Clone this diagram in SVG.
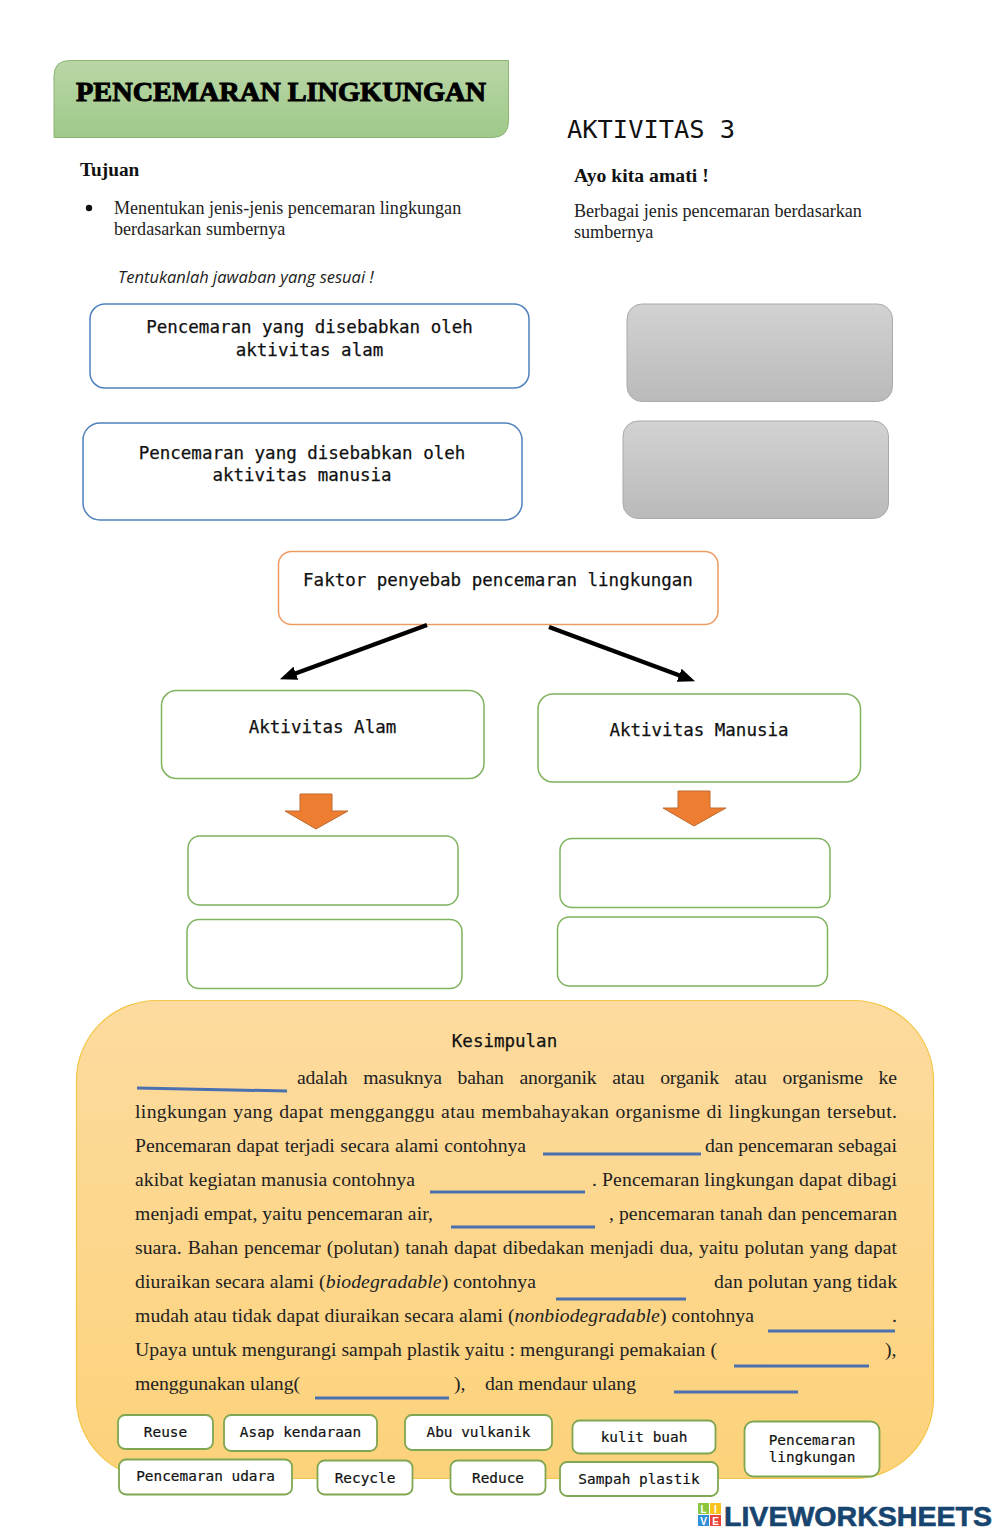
<svg xmlns="http://www.w3.org/2000/svg" width="1000" height="1535" viewBox="0 0 1000 1535">
<defs>
<linearGradient id="gr" x1="0" y1="0" x2="0" y2="1"><stop offset="0" stop-color="#b9d6a6"/><stop offset="1" stop-color="#9fc98a"/></linearGradient>
<linearGradient id="gy" x1="0" y1="0" x2="0" y2="1"><stop offset="0" stop-color="#d2d2d2"/><stop offset="1" stop-color="#bababa"/></linearGradient>
<linearGradient id="or" x1="0" y1="0" x2="0" y2="1"><stop offset="0" stop-color="#fddb9f"/><stop offset="1" stop-color="#fcd27a"/></linearGradient>
<marker id="ah" markerUnits="userSpaceOnUse" markerWidth="18" markerHeight="14" refX="2" refY="7" orient="auto"><path d="M0 0L17 7L0 14Z" fill="#000"/></marker>
</defs>
<style>
.m{font-family:"DejaVu Sans Mono","Liberation Mono",monospace;font-size:17.500px;fill:#111;stroke:#111;stroke-width:.25px;text-anchor:middle}
.s{font-family:"DejaVu Sans Mono","Liberation Mono",monospace;font-size:14.400px;fill:#111;stroke:#111;stroke-width:.2px;text-anchor:middle}
.p{font-family:"Liberation Serif",serif;font-size:19.700px;fill:#222}
.q{font-family:"Liberation Serif",serif;font-size:18.100px;fill:#222}
.b{fill:#fff;stroke-width:1.5}
.bl{stroke:#4f81bd}
.g{stroke:#7fb35f}
.o{stroke:#ee9a63}
.c{fill:#fff;stroke:#7fa650;stroke-width:1.800}
.u{stroke:#4a70b0;stroke-width:3;fill:none}
.a{fill:#ed7d31;stroke:#bd6a2e;stroke-width:1}
</style>
<rect width="1000" height="1535" fill="#fff"/>
<g id="title">
<path d="M54 137.500V76Q54 60.500 70 60.500H508.500V121Q508.500 137.500 492 137.500Z" fill="url(#gr)" stroke="#8cb573" stroke-width="1"/>
<text x="76" y="101" font-family="Liberation Serif,serif" font-weight="700" font-size="27" fill="#000" stroke="#000" stroke-width="1" textLength="410" lengthAdjust="spacingAndGlyphs">PENCEMARAN LINGKUNGAN</text>
</g>
<g id="aktivitas3"><text x="567" y="138" font-family="DejaVu Sans Mono,monospace" font-size="25.400" fill="#111">AKTIVITAS 3</text></g>
<g id="tujuan">
<text x="80" y="176" font-family="Liberation Serif,serif" font-weight="700" font-size="19.300" fill="#111">Tujuan</text>
<circle cx="89" cy="208" r="3.200" fill="#111"/>
<text x="114" y="214" class="q">Menentukan jenis-jenis pencemaran lingkungan</text>
<text x="114" y="235" class="q">berdasarkan sumbernya</text>
</g>
<g id="amati">
<text x="574" y="182" font-family="Liberation Serif,serif" font-weight="700" font-size="19.700" fill="#111">Ayo kita amati !</text>
<text x="574" y="217" class="q">Berbagai jenis pencemaran berdasarkan</text>
<text x="574" y="238" class="q">sumbernya</text>
</g>
<g id="instruksi"><text x="118" y="283" font-family="Open Sans,sans-serif" font-style="italic" font-size="16.500" fill="#222">Tentukanlah jawaban yang sesuai !</text></g>
<g id="n1"><rect x="90" y="304" width="439" height="84" rx="15" class="b bl"/><text x="309.500" y="333" class="m">Pencemaran yang disebabkan oleh</text><text x="309.500" y="356" class="m">aktivitas alam</text></g>
<g id="n2"><rect x="83" y="423" width="439" height="97" rx="17" class="b bl"/><text x="302" y="459" class="m">Pencemaran yang disebabkan oleh</text><text x="302" y="481" class="m">aktivitas manusia</text></g>
<g id="g1"><rect x="627" y="304" width="265.500" height="97.500" rx="15" fill="url(#gy)" stroke="#aaa"/></g>
<g id="g2"><rect x="623" y="421" width="265.500" height="97.500" rx="15" fill="url(#gy)" stroke="#aaa"/></g>
<g id="faktor"><rect x="278.500" y="551.500" width="439.500" height="73" rx="13" class="b o"/><text x="498" y="586" class="m">Faktor penyebab pencemaran lingkungan</text></g>
<g id="connectors">
<line x1="427" y1="625" x2="294" y2="674" stroke="#000" stroke-width="4.500" marker-end="url(#ah)"/>
<line x1="549" y1="627" x2="681" y2="676" stroke="#000" stroke-width="4.500" marker-end="url(#ah)"/>
<path class="a" d="M300 794H332V811H348L316 829L285 811H300Z"/>
<path class="a" d="M678 791H710V808H726L694 826L663 808H678Z"/>
</g>
<g id="alam"><rect x="161.500" y="690.500" width="322.500" height="88" rx="15" class="b g"/><text x="322.500" y="733" class="m">Aktivitas Alam</text></g>
<g id="manusia"><rect x="538" y="694" width="322.500" height="88" rx="15" class="b g"/><text x="699" y="736" class="m">Aktivitas Manusia</text></g>
<g id="a1"><rect x="188" y="836" width="270" height="69" rx="12" class="b g"/></g>
<g id="a2"><rect x="187" y="919.500" width="275" height="69" rx="12" class="b g"/></g>
<g id="m1"><rect x="560" y="838.500" width="270" height="69" rx="12" class="b g"/></g>
<g id="m2"><rect x="557.500" y="917" width="270" height="69" rx="12" class="b g"/></g>
<g id="kesimpulan">
<rect x="76.500" y="1000.500" width="857" height="478" rx="80" fill="url(#or)" stroke="#f3c647" stroke-width="1.200"/>
<text x="504.500" y="1047" class="m">Kesimpulan</text>
<g class="p">
<text x="297" y="1084" word-spacing="11" textLength="600">adalah masuknya bahan anorganik atau organik atau organisme ke</text>
<text x="135" y="1118" word-spacing="1" textLength="762">lingkungan yang dapat mengganggu atau membahayakan organisme di lingkungan tersebut.</text>
<text x="135" y="1152" textLength="391" word-spacing=".7">Pencemaran dapat terjadi secara alami  contohnya</text>
<text x="705" y="1152" textLength="192">dan pencemaran sebagai</text>
<text x="135" y="1186" textLength="280">akibat kegiatan manusia contohnya</text>
<text x="592" y="1186" textLength="305">. Pencemaran lingkungan dapat dibagi</text>
<text x="135" y="1220" textLength="298">menjadi empat, yaitu pencemaran air,</text>
<text x="609" y="1220" textLength="288">, pencemaran tanah dan pencemaran</text>
<text x="135" y="1254" textLength="762" word-spacing="1">suara.  Bahan pencemar (polutan) tanah dapat dibedakan menjadi dua, yaitu polutan yang dapat</text>
<text x="135" y="1288" textLength="401">diuraikan secara alami (<tspan font-style="italic">biodegradable</tspan>) contohnya</text>
<text x="714" y="1288" textLength="183">dan polutan yang tidak</text>
<text x="135" y="1322" textLength="619">mudah atau tidak dapat diuraikan secara alami (<tspan font-style="italic">nonbiodegradable</tspan>)  contohnya</text>
<text x="892" y="1322">.</text>
<text x="135" y="1356" textLength="582">Upaya untuk mengurangi sampah plastik yaitu : mengurangi pemakaian (</text>
<text x="885" y="1356">),</text>
<text x="135" y="1390" textLength="165">menggunakan ulang(</text>
<text x="454" y="1390">),</text>
<text x="485" y="1390" textLength="151">dan mendaur ulang</text>
</g>
<g class="u">
<path d="M137 1088L287 1091"/><path d="M543 1154H701"/><path d="M430 1192H585"/><path d="M451 1227H595"/><path d="M556 1299H686"/><path d="M768 1331H895"/><path d="M734 1366H869"/><path d="M315 1398H449"/><path d="M674 1392H798"/>
</g>
</g>
<g id="c1"><rect x="118" y="1415" width="95" height="34" rx="7" class="c"/><text x="165.500" y="1437" class="s">Reuse</text></g>
<g id="c2"><rect x="224" y="1415" width="153" height="36" rx="7" class="c"/><text x="300.500" y="1437" class="s">Asap kendaraan</text></g>
<g id="c3"><rect x="405" y="1415" width="147" height="35" rx="7" class="c"/><text x="478.500" y="1437" class="s">Abu vulkanik</text></g>
<g id="c4"><rect x="572.500" y="1420.500" width="143" height="33" rx="7" class="c"/><text x="644" y="1442" class="s">kulit buah</text></g>
<g id="c5"><rect x="744.500" y="1421.500" width="135" height="55" rx="9" class="c"/><text x="812" y="1445" class="s">Pencemaran</text><text x="812" y="1462" class="s">lingkungan</text></g>
<g id="c6"><rect x="119" y="1459.500" width="173" height="35" rx="7" class="c"/><text x="205.500" y="1481" class="s">Pencemaran udara</text></g>
<g id="c7"><rect x="317.500" y="1460.500" width="95" height="34" rx="7" class="c"/><text x="365" y="1483" class="s">Recycle</text></g>
<g id="c8"><rect x="450.500" y="1460.500" width="95" height="34" rx="7" class="c"/><text x="498" y="1483" class="s">Reduce</text></g>
<g id="c9"><rect x="560" y="1462" width="158" height="34" rx="7" class="c"/><text x="639" y="1484" class="s">Sampah plastik</text></g>
<g id="logo">
<rect x="698" y="1503" width="11" height="11" fill="#8cc63f"/><rect x="710" y="1503" width="11" height="11" fill="#f7c31c"/>
<rect x="698" y="1515" width="11" height="11" fill="#2f8fd8"/><rect x="710" y="1515" width="11" height="11" fill="#e8443a"/>
<g font-family="Liberation Sans,sans-serif" font-weight="700" font-size="10" fill="#fff" text-anchor="middle"><text x="703.500" y="1512.500">L</text><text x="715.500" y="1512.500">I</text><text x="703.500" y="1524.500">V</text><text x="715.500" y="1524.500">E</text></g>
<text x="724" y="1526" font-family="Liberation Sans,sans-serif" font-weight="700" font-size="28" fill="#17456f" stroke="#17456f" stroke-width=".6" textLength="268" lengthAdjust="spacingAndGlyphs">LIVEWORKSHEETS</text>
</g>
</svg>
